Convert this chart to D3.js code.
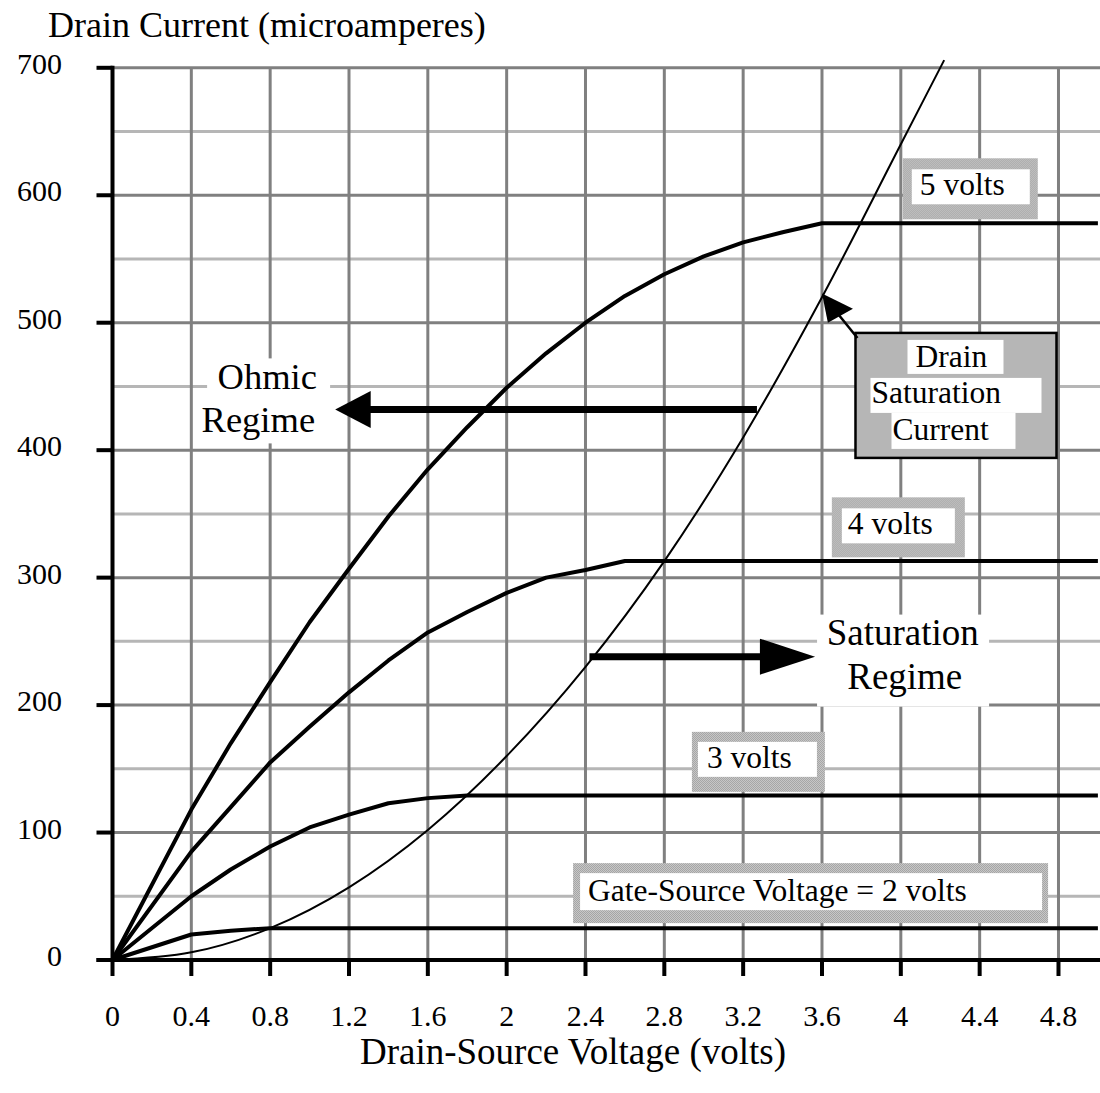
<!DOCTYPE html>
<html>
<head>
<meta charset="utf-8">
<script src="https://cdn.jsdelivr.net/npm/d3@7"></script>
<style>
  body { margin: 0; background: #fff; }
  svg text { font-family: "Liberation Serif", "Times New Roman", serif; fill: #000; }
</style>
</head>
<body>
<div id="chart"></div>
<script>
// Tick values
const xTicks = [0, 0.4, 0.8, 1.2, 1.6, 2, 2.4, 2.8, 3.2, 3.6, 4, 4.4, 4.8];
const yTicks = [0, 100, 200, 300, 400, 500, 600, 700];
const yMinor = [50, 150, 250, 350, 450, 550, 650];

// Gate-source 5 volts
const v5 = [0, 0.4, 0.6, 0.8, 1.0, 1.2, 1.4, 1.6, 1.8, 2.0, 2.2, 2.4, 2.6, 2.8, 3.0, 3.2, 3.4, 3.6, 5.0];
const i5 = [0, 118, 170, 218, 265, 307, 348, 385, 418, 449, 476, 500, 521, 538, 552, 563, 571, 578, 578];
// Gate-source 4 volts
const v4 = [0, 0.4, 0.6, 0.8, 1.0, 1.2, 1.4, 1.6, 1.8, 2.0, 2.2, 2.4, 2.6, 5.0];
const i4 = [0, 85, 120, 155, 183, 210, 235, 257, 273, 288, 300, 306, 313, 313];
// Gate-source 3 volts
const v3 = [0, 0.4, 0.6, 0.8, 1.0, 1.2, 1.4, 1.6, 1.8, 5.0];
const i3 = [0, 50, 71, 89, 104, 114, 123, 127, 129, 129];
// Gate-source 2 volts
const v2 = [0, 0.4, 0.6, 0.8, 5.0];
const i2 = [0, 20, 23, 25, 25];
// Drain saturation current
const vSat = [0, 0.4, 0.8, 1.2, 1.6, 2.0, 2.4, 2.8, 3.2, 3.6, 4.0, 4.22];
const iSat = [0, 6, 25, 57, 102, 160, 230, 313, 410, 520, 640, 706];

const width = 1100, height = 1093;

const svg = d3.select('#chart')
    .append('svg')
    .attr('width', width)
    .attr('height', height);

// stipple fill like the old halftone gray
const defs = svg.append('defs');
const pat = defs.append('pattern')
    .attr('id', 'stipple')
    .attr('width', 2).attr('height', 2)
    .attr('patternUnits', 'userSpaceOnUse');
pat.append('rect').attr('width', 2).attr('height', 2).attr('fill', '#d2d2d2');
pat.append('rect').attr('width', 1).attr('height', 1).attr('fill', '#9a9a9a');
pat.append('rect').attr('x', 1).attr('y', 1).attr('width', 1).attr('height', 1).attr('fill', '#9a9a9a');

const x = d3.scaleLinear().domain([0, 5]).range([112.5, 1097.9]);
const y = d3.scaleLinear().domain([0, 700]).range([960, 67.8]);

// Grid
const grid = svg.append('g');
grid.selectAll('.minor')
    .data(yMinor)
    .enter()
    .append('line')
    .attr('x1', x(0)).attr('x2', width)
    .attr('y1', d => y(d)).attr('y2', d => y(d))
    .attr('stroke', '#b6b6b6')
    .attr('stroke-width', 3);
grid.selectAll('.major')
    .data(yTicks.slice(1))
    .enter()
    .append('line')
    .attr('x1', x(0)).attr('x2', width)
    .attr('y1', d => y(d)).attr('y2', d => y(d))
    .attr('stroke', '#808080')
    .attr('stroke-width', 3);
grid.selectAll('.vert')
    .data(xTicks.slice(1))
    .enter()
    .append('line')
    .attr('x1', d => x(d)).attr('x2', d => x(d))
    .attr('y1', y(700)).attr('y2', y(0))
    .attr('stroke', '#808080')
    .attr('stroke-width', 3);

// White backgrounds behind the regime labels
svg.append('rect').attr('x', x(0.48)).attr('y', y(472)).attr('width', 123).attr('height', 85).attr('fill', '#fff');
svg.append('rect').attr('x', x(3.575)).attr('y', y(271)).attr('width', 172).attr('height', 92).attr('fill', '#fff');

// Value label boxes (gray frame, white inner)
function labelBox(vx, iy, w, h, inner, text, tx, ty) {
    const g = svg.append('g').attr('transform', `translate(${x(vx)}, ${y(iy)})`);
    g.append('rect').attr('width', w).attr('height', h).attr('fill', 'url(#stipple)');
    g.append('rect').attr('x', inner[0]).attr('y', inner[1]).attr('width', inner[2]).attr('height', inner[3]).attr('fill', '#fff');
    g.append('text').attr('x', tx).attr('y', ty).style('font-size', '31.5px').text(text);
}
labelBox(4.01, 629, 135, 61, [9, 11, 118, 35], '5 volts', 17, 37);
labelBox(3.65, 363, 133, 60, [10, 11, 113, 35], '4 volts', 16, 37);
labelBox(2.94, 179, 133, 60, [6, 10, 119, 35], '3 volts', 15, 36);
labelBox(2.337, 76, 475, 60, [7, 10, 462, 37], 'Gate-Source Voltage = 2 volts', 15, 38);

// Curves
const line = d3.line().x(d => x(d[0])).y(d => y(d[1]));
const series = [[v5, i5], [v4, i4], [v3, i3], [v2, i2]];
series.forEach(s => {
    svg.append('path')
        .datum(d3.zip(s[0], s[1]))
        .attr('fill', 'none')
        .attr('stroke', '#000')
        .attr('stroke-width', 4)
        .attr('stroke-linejoin', 'round')
        .attr('d', line);
});
svg.append('path')
    .datum(d3.zip(vSat, iSat))
    .attr('fill', 'none')
    .attr('stroke', '#000')
    .attr('stroke-width', 2)
    .attr('d', d3.line().x(d => x(d[0])).y(d => y(d[1])).curve(d3.curveMonotoneX));

// Axes
const axes = svg.append('g');
axes.append('line')
    .attr('x1', x(0)).attr('x2', x(0))
    .attr('y1', y(700) - 2).attr('y2', y(0) + 2)
    .attr('stroke', '#000').attr('stroke-width', 4);
axes.append('line')
    .attr('x1', x(0) - 16).attr('x2', width)
    .attr('y1', y(0)).attr('y2', y(0))
    .attr('stroke', '#000').attr('stroke-width', 4);
axes.selectAll('.yt')
    .data(yTicks)
    .enter()
    .append('line')
    .attr('x1', x(0) - 16).attr('x2', x(0))
    .attr('y1', d => y(d)).attr('y2', d => y(d))
    .attr('stroke', '#000').attr('stroke-width', 4);
axes.selectAll('.xt')
    .data(xTicks)
    .enter()
    .append('line')
    .attr('x1', d => x(d)).attr('x2', d => x(d))
    .attr('y1', y(0)).attr('y2', y(0) + 16)
    .attr('stroke', '#000').attr('stroke-width', 4);
axes.selectAll('.yl')
    .data(yTicks)
    .enter()
    .append('text')
    .attr('x', 62)
    .attr('y', d => y(d) + 6)
    .attr('text-anchor', 'end')
    .style('font-size', '30px')
    .text(d => d);
axes.selectAll('.xl')
    .data(xTicks)
    .enter()
    .append('text')
    .attr('x', d => x(d))
    .attr('y', 1026)
    .attr('text-anchor', 'middle')
    .style('font-size', '30px')
    .text(d => d);

svg.append('text')
    .attr('x', 48).attr('y', 37)
    .style('font-size', '36px')
    .text('Drain Current (microamperes)');
svg.append('text')
    .attr('x', 573).attr('y', 1064)
    .attr('text-anchor', 'middle')
    .style('font-size', '37px')
    .text('Drain-Source Voltage (volts)');

// Ohmic regime arrow
svg.append('line')
    .attr('x1', x(1.3)).attr('x2', x(3.27))
    .attr('y1', y(432)).attr('y2', y(432))
    .attr('stroke', '#000').attr('stroke-width', 7);
svg.append('polygon')
    .attr('points', [[x(1.13), y(432)], [x(1.31), y(432) - 18.5], [x(1.31), y(432) + 18.5]].join(' '))
    .attr('fill', '#000');
svg.append('text').attr('x', x(0.785)).attr('y', y(448)).attr('text-anchor', 'middle')
    .style('font-size', '36.5px').text('Ohmic');
svg.append('text').attr('x', x(0.74)).attr('y', y(414)).attr('text-anchor', 'middle')
    .style('font-size', '36.5px').text('Regime');

// Saturation regime arrow
svg.append('line')
    .attr('x1', x(2.42)).attr('x2', x(3.3))
    .attr('y1', y(238)).attr('y2', y(238))
    .attr('stroke', '#000').attr('stroke-width', 7);
svg.append('polygon')
    .attr('points', [[x(3.565), y(238)], [x(3.285), y(238) - 18], [x(3.285), y(238) + 18]].join(' '))
    .attr('fill', '#000');
svg.append('text').attr('x', x(4.01)).attr('y', y(247)).attr('text-anchor', 'middle')
    .style('font-size', '37px').text('Saturation');
svg.append('text').attr('x', x(4.02)).attr('y', y(213)).attr('text-anchor', 'middle')
    .style('font-size', '37px').text('Regime');

// Drain saturation current callout
const cb = svg.append('g').attr('transform', `translate(${x(3.77)}, ${y(492)})`);
cb.append('rect').attr('width', 201).attr('height', 125)
    .attr('fill', 'url(#stipple)').attr('stroke', '#000').attr('stroke-width', 2.5);
[[52, 7, 96, 34], [15, 45, 171, 35], [36, 80, 124, 36]].forEach(r => {
    cb.append('rect').attr('x', r[0]).attr('y', r[1]).attr('width', r[2]).attr('height', r[3]).attr('fill', '#fff');
});
[['Drain', 60, 34], ['Saturation', 16, 70], ['Current', 37, 107]].forEach(t => {
    cb.append('text').attr('x', t[1]).attr('y', t[2]).style('font-size', '31.5px').text(t[0]);
});
svg.append('line')
    .attr('x1', x(3.78)).attr('y1', y(488))
    .attr('x2', x(3.66)).attr('y2', y(511))
    .attr('stroke', '#000').attr('stroke-width', 2.5);
svg.append('polygon')
    .attr('points', [[x(3.6), y(523)], [x(3.757), y(511)], [x(3.63), y(500)]].join(' '))
    .attr('fill', '#000');
</script>
</body>
</html>
